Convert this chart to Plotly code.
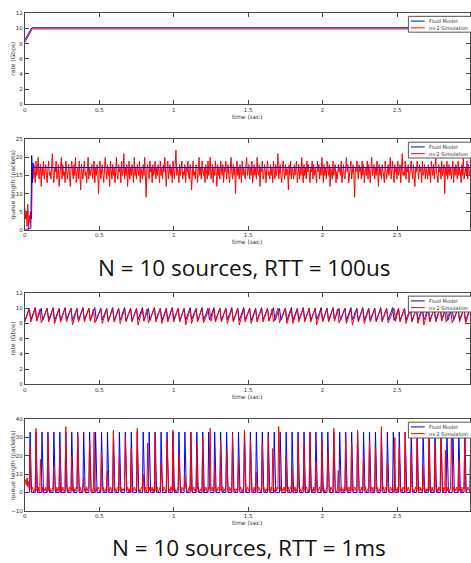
import plotly.graph_objects as go

# ---------------- sampling grids ----------------
T_STEP = 0.01
N_SAMPLES = 300
time_grid = [round(i * T_STEP, 3) for i in range(N_SAMPLES)]
T_FINE = 0.005
N_FINE = 600
time_fine = [round(i * T_FINE, 3) for i in range(N_FINE)]

# ---------------- N = 10, RTT = 100us ----------------
rate_fluid_100us_t = [0.0, 0.047, 2.99]
rate_fluid_100us = [8.5, 10.1, 10.1]
rate_ns2_100us_t = [0.0, 0.05, 2.99]
rate_ns2_100us = [8.2, 9.95, 9.95]

queue_fluid_100us_t = [0.0, 0.04, 0.046, 0.05, 0.054, 0.06, 2.99]
queue_fluid_100us = [0.0, 0.5, 20.5, 13.0, 18.5, 17.2, 17.2]

queue_ns2_100us = [
    6, 3, 5, 1, 7, 0, 4, 2, 5, 3, 17, 14, 18, 16, 13, 19, 15, 17, 20, 14, 16, 18, 12, 17, 15, 19, 14, 16, 18, 15,
    13, 17, 19, 15, 16, 14, 18, 21, 15, 13, 17, 16, 19, 14, 15, 18, 12, 16, 17, 20, 14, 18, 15, 16, 13, 19, 17, 14, 16, 18,
    15, 12, 17, 19, 16, 14, 18, 15, 20, 13, 16, 17, 14, 19, 15, 11, 18, 16, 14, 17, 19, 15, 16, 13, 18, 20, 14, 17, 15, 16,
    18, 14, 16, 19, 13, 17, 15, 18, 16, 10, 17, 19, 14, 16, 18, 15, 13, 17, 20, 16, 14, 18, 15, 17, 12, 19, 16, 14, 18, 15,
    17, 13, 16, 20, 15, 14, 18, 16, 17, 13, 19, 15, 16, 21, 14, 17, 15, 18, 12, 16, 19, 14, 17, 15, 18, 16, 13, 20, 15, 17,
    14, 18, 16, 15, 19, 13, 17, 16, 14, 18, 15, 20, 16, 9, 17, 18, 15, 14, 19, 16, 17, 13, 18, 15, 16, 19, 14, 17, 15, 18,
    16, 13, 19, 15, 17, 14, 18, 16, 20, 15, 12, 17, 19, 14, 16, 18, 15, 17, 13, 19, 16, 14, 18, 22, 15, 17, 16, 13, 18, 15,
    17, 19, 14, 16, 15, 18, 13, 17, 16, 19, 15, 14, 18, 16, 11, 17, 19, 15, 16, 14, 18, 17, 13, 16, 20, 15, 17, 14, 19, 16,
    15, 17, 13, 18, 16, 14, 19, 15, 17, 20, 14, 16, 18, 13, 17, 15, 19, 16, 12, 18, 15, 17, 14, 19, 16, 15, 18, 13, 17, 16,
    19, 14, 16, 18, 15, 13, 17, 20, 16, 14, 18, 15, 17, 10, 16, 19, 15, 17, 14, 18, 16, 13, 19, 15, 17, 16, 14, 18, 20, 15,
    16, 18, 14, 17, 15, 19, 13, 16, 18, 15, 17, 14, 20, 16, 15, 18, 12, 17, 16, 19, 14, 15, 18, 16, 13, 17, 19, 15, 16, 14,
    18, 15, 17, 13, 19, 16, 14, 18, 15, 17, 21, 14, 16, 18, 15, 13, 17, 19, 16, 14, 18, 15, 17, 16, 11, 18, 15, 19, 14, 17,
    16, 14, 18, 15, 17, 19, 13, 16, 18, 14, 17, 15, 20, 16, 13, 18, 15, 17, 14, 19, 16, 18, 15, 13, 17, 16, 19, 14, 18, 15,
    17, 15, 13, 19, 16, 18, 14, 17, 15, 20, 16, 13, 18, 15, 17, 14, 19, 16, 15, 18, 12, 17, 16, 14, 19, 15, 17, 18, 13, 16,
    14, 18, 16, 17, 15, 19, 13, 16, 18, 15, 14, 17, 20, 16, 18, 13, 15, 17, 19, 14, 16, 18, 15, 9, 17, 16, 19, 15, 14, 18,
    16, 17, 14, 19, 15, 18, 13, 16, 17, 15, 19, 14, 18, 16, 13, 17, 20, 15, 16, 18, 14, 17, 15, 19, 16, 12, 18, 15, 17, 14,
    18, 16, 15, 13, 19, 17, 14, 16, 18, 15, 17, 20, 14, 16, 19, 15, 13, 18, 16, 17, 14, 19, 15, 16, 18, 13, 17, 21, 15, 16,
    15, 19, 14, 17, 16, 18, 13, 15, 17, 19, 16, 14, 18, 15, 12, 17, 16, 19, 15, 14, 18, 16, 17, 13, 19, 15, 16, 18, 14, 17,
    16, 14, 18, 15, 17, 13, 19, 16, 15, 18, 14, 17, 20, 16, 15, 13, 18, 16, 17, 14, 19, 15, 16, 18, 10, 17, 15, 19, 14, 16,
    18, 15, 17, 14, 16, 19, 13, 17, 15, 18, 16, 14, 19, 15, 17, 16, 13, 18, 15, 20, 14, 16, 17, 15, 19, 14, 18, 16, 15, 17,
]

# ---------------- N = 10, RTT = 1ms ----------------
rate_fluid_1ms = [
    8.4, 8.9, 9.5, 10.0, 8.5, 9.0, 9.6, 10.1, 8.4, 8.9, 9.5, 10.0, 8.4, 9.0, 9.5, 10.0, 8.5, 8.9, 9.5, 10.1,
    8.4, 8.9, 9.5, 10.0, 8.4, 8.9, 9.6, 10.1, 8.5, 9.0, 9.5, 10.0, 8.4, 8.9, 9.5, 10.0, 8.4, 9.0, 9.6, 10.1,
    8.5, 8.9, 9.5, 10.0, 8.4, 8.9, 9.5, 10.1, 8.4, 9.0, 9.6, 10.0, 8.5, 8.9, 9.5, 10.0, 8.4, 8.9, 9.5, 10.1,
    8.4, 9.0, 9.5, 10.0, 8.5, 8.9, 9.6, 10.1, 8.4, 8.9, 9.5, 10.0, 8.4, 8.9, 9.5, 10.0, 8.5, 9.0, 9.6, 10.1,
    8.4, 8.9, 9.5, 10.0, 8.4, 9.0, 9.5, 10.1, 8.5, 8.9, 9.5, 10.0, 8.4, 8.9, 9.6, 10.0, 8.4, 9.0, 9.5, 10.1,
    8.5, 8.9, 9.5, 10.0, 8.4, 8.9, 9.5, 10.0, 8.4, 9.0, 9.6, 10.1, 8.5, 8.9, 9.5, 10.0, 8.4, 8.9, 9.5, 10.1,
    8.4, 9.0, 9.5, 10.0, 8.5, 8.9, 9.6, 10.1, 8.4, 8.9, 9.5, 10.0, 8.4, 9.0, 9.5, 10.0, 8.5, 8.9, 9.5, 10.1,
    8.4, 8.9, 9.6, 10.0, 8.4, 9.0, 9.5, 10.1, 8.5, 8.9, 9.5, 10.0, 8.4, 8.9, 9.5, 10.0, 8.4, 9.0, 9.6, 10.1,
    8.5, 8.9, 9.5, 10.0, 8.4, 8.9, 9.5, 10.1, 8.4, 9.0, 9.5, 10.0, 8.5, 8.9, 9.6, 10.0, 8.4, 8.9, 9.5, 10.1,
    8.4, 9.0, 9.5, 10.0, 8.5, 8.9, 9.5, 10.1, 8.4, 8.9, 9.6, 10.0, 8.4, 9.0, 9.5, 10.0, 8.5, 8.9, 9.5, 10.1,
    8.4, 8.9, 9.5, 10.0, 8.4, 9.0, 9.6, 10.1, 8.5, 8.9, 9.5, 10.0, 8.4, 8.9, 9.5, 10.0, 8.4, 9.0, 9.5, 10.1,
    8.5, 8.9, 9.6, 10.0, 8.4, 8.9, 9.5, 10.1, 8.4, 9.0, 9.5, 10.0, 8.5, 8.9, 9.5, 10.0, 8.4, 8.9, 9.6, 10.1,
    8.4, 9.0, 9.5, 10.0, 8.5, 8.9, 9.5, 10.1, 8.4, 8.9, 9.5, 10.0, 8.4, 9.0, 9.6, 10.0, 8.5, 8.9, 9.5, 10.1,
    8.4, 8.9, 9.5, 10.0, 8.4, 9.0, 9.5, 10.1, 8.5, 8.9, 9.6, 10.0, 8.4, 8.9, 9.5, 10.0, 8.4, 9.0, 9.5, 10.1,
    8.5, 8.9, 9.5, 10.0, 8.4, 8.9, 9.6, 10.1, 8.4, 9.0, 9.5, 10.0, 8.5, 8.9, 9.5, 10.0, 8.4, 8.9, 9.5, 10.1,
]

rate_ns2_1ms = [
    8.2, 8.8, 9.4, 10.0, 8.2, 8.8, 9.4, 10.0, 8.3, 9.1, 9.9, 8.1, 8.6, 9.1, 9.6, 10.0, 8.2, 8.8, 9.4, 10.0,
    8.0, 8.7, 9.3, 9.9, 8.2, 8.8, 9.4, 10.0, 8.2, 8.8, 9.4, 10.0, 7.8, 8.5, 9.2, 9.9, 8.2, 8.8, 9.4, 10.0,
    8.2, 8.8, 9.4, 10.0, 8.3, 9.1, 9.9, 8.1, 8.6, 9.1, 9.6, 10.0, 8.0, 8.7, 9.3, 9.9, 8.2, 8.8, 9.4, 10.0,
    8.2, 8.8, 9.4, 10.0, 8.0, 8.7, 9.3, 9.9, 8.2, 8.8, 9.4, 10.0, 8.2, 8.8, 9.4, 10.0, 7.8, 8.5, 9.2, 9.9,
    8.3, 9.1, 9.9, 8.1, 8.6, 9.1, 9.6, 10.0, 8.2, 8.8, 9.4, 10.0, 8.0, 8.7, 9.3, 9.9, 8.2, 8.8, 9.4, 10.0,
    8.2, 8.8, 9.4, 10.0, 8.2, 8.8, 9.4, 10.0, 7.8, 8.5, 9.2, 9.9, 8.0, 8.7, 9.3, 9.9, 8.2, 8.8, 9.4, 10.0,
    8.1, 8.6, 9.1, 9.6, 10.0, 8.3, 9.1, 9.9, 8.2, 8.8, 9.4, 10.0, 8.2, 8.8, 9.4, 10.0, 8.0, 8.7, 9.3, 9.9,
    8.2, 8.8, 9.4, 10.0, 7.8, 8.5, 9.2, 9.9, 8.2, 8.8, 9.4, 10.0, 8.0, 8.7, 9.3, 9.9, 8.2, 8.8, 9.4, 10.0,
    8.2, 8.8, 9.4, 10.0, 8.3, 9.1, 9.9, 8.2, 8.8, 9.4, 10.0, 8.1, 8.6, 9.1, 9.6, 10.0, 8.0, 8.7, 9.3, 9.9,
    8.0, 8.7, 9.3, 9.9, 8.2, 8.8, 9.4, 10.0, 8.2, 8.8, 9.4, 10.0, 8.2, 8.8, 9.4, 10.0, 7.8, 8.5, 9.2, 9.9,
    8.2, 8.8, 9.4, 10.0, 8.2, 8.8, 9.4, 10.0, 8.3, 9.1, 9.9, 8.1, 8.6, 9.1, 9.6, 10.0, 8.0, 8.7, 9.3, 9.9,
    7.8, 8.5, 9.2, 9.9, 8.2, 8.8, 9.4, 10.0, 8.0, 8.7, 9.3, 9.9, 8.2, 8.8, 9.4, 10.0, 8.2, 8.8, 9.4, 10.0,
    8.2, 8.8, 9.4, 10.0, 8.1, 8.6, 9.1, 9.6, 10.0, 8.3, 9.1, 9.9, 8.2, 8.8, 9.4, 10.0, 8.0, 8.7, 9.3, 9.9,
    8.2, 8.8, 9.4, 10.0, 8.0, 8.7, 9.3, 9.9, 7.8, 8.5, 9.2, 9.9, 8.2, 8.8, 9.4, 10.0, 8.2, 8.8, 9.4, 10.0,
    8.3, 9.1, 9.9, 8.2, 8.8, 9.4, 10.0, 8.1, 8.6, 9.1, 9.6, 10.0, 8.2, 8.8, 9.4, 10.0, 8.0, 8.7, 9.3, 9.9,
]

queue_fluid_1ms = [
    0, 0, 0, 0, 0, 0, 0, 33, 0, 0, 0, 0, 0, 0, 0, 33, 0, 0, 0, 0, 0, 0, 0, 33, 0, 0, 0, 0, 0, 0, 0, 33, 0, 0, 0, 0, 0, 0, 0, 33,
    0, 0, 0, 0, 0, 0, 0, 33, 0, 0, 0, 0, 0, 0, 0, 33, 0, 0, 0, 0, 0, 0, 0, 33, 0, 0, 0, 0, 0, 0, 0, 33, 0, 0, 0, 0, 0, 0, 0, 33,
    0, 0, 0, 0, 0, 0, 0, 33, 0, 0, 0, 0, 0, 0, 0, 33, 0, 0, 0, 0, 0, 0, 0, 33, 0, 0, 0, 0, 0, 0, 0, 33, 0, 0, 0, 0, 0, 0, 0, 33,
    0, 0, 0, 0, 0, 0, 0, 33, 0, 0, 0, 0, 0, 0, 0, 33, 0, 0, 0, 0, 0, 0, 0, 33, 0, 0, 0, 0, 0, 0, 0, 33, 0, 0, 0, 0, 0, 0, 0, 33,
    0, 0, 0, 0, 0, 0, 0, 33, 0, 0, 0, 0, 0, 0, 0, 33, 0, 0, 0, 0, 0, 0, 0, 33, 0, 0, 0, 0, 0, 0, 0, 33, 0, 0, 0, 0, 0, 0, 0, 33,
    0, 0, 0, 0, 0, 0, 0, 33, 0, 0, 0, 0, 0, 0, 0, 33, 0, 0, 0, 0, 0, 0, 0, 33, 0, 0, 0, 0, 0, 0, 0, 33, 0, 0, 0, 0, 0, 0, 0, 33,
    0, 0, 0, 0, 0, 0, 0, 33, 0, 0, 0, 0, 0, 0, 0, 33, 0, 0, 0, 0, 0, 0, 0, 33, 0, 0, 0, 0, 0, 0, 0, 33, 0, 0, 0, 0, 0, 0, 0, 33,
    0, 0, 0, 0, 0, 0, 0, 33, 0, 0, 0, 0, 0, 0, 0, 33, 0, 0, 0, 0, 0, 0, 0, 33, 0, 0, 0, 0, 0, 0, 0, 33, 0, 0, 0, 0, 0, 0, 0, 33,
    0, 0, 0, 0, 0, 0, 0, 33, 0, 0, 0, 0, 0, 0, 0, 33, 0, 0, 0, 0, 0, 0, 0, 33, 0, 0, 0, 0, 0, 0, 0, 33, 0, 0, 0, 0, 0, 0, 0, 33,
    0, 0, 0, 0, 0, 0, 0, 33, 0, 0, 0, 0, 0, 0, 0, 33, 0, 0, 0, 0, 0, 0, 0, 33, 0, 0, 0, 0, 0, 0, 0, 33, 0, 0, 0, 0, 0, 0, 0, 33,
    0, 0, 0, 0, 0, 0, 0, 33, 0, 0, 0, 0, 0, 0, 0, 33, 0, 0, 0, 0, 0, 0, 0, 33, 0, 0, 0, 0, 0, 0, 0, 33, 0, 0, 0, 0, 0, 0, 0, 33,
    0, 0, 0, 0, 0, 0, 0, 33, 0, 0, 0, 0, 0, 0, 0, 33, 0, 0, 0, 0, 0, 0, 0, 33, 0, 0, 0, 0, 0, 0, 0, 33, 0, 0, 0, 0, 0, 0, 0, 33,
    0, 0, 0, 0, 0, 0, 0, 33, 0, 0, 0, 0, 0, 0, 0, 33, 0, 0, 0, 0, 0, 0, 0, 33, 0, 0, 0, 0, 0, 0, 0, 33, 0, 0, 0, 0, 0, 0, 0, 33,
    0, 0, 0, 0, 0, 0, 0, 33, 0, 0, 0, 0, 0, 0, 0, 33, 0, 0, 0, 0, 0, 0, 0, 33, 0, 0, 0, 0, 0, 0, 0, 33, 0, 0, 0, 0, 0, 0, 0, 33,
    0, 0, 0, 0, 0, 0, 0, 33, 0, 0, 0, 0, 0, 0, 0, 33, 0, 0, 0, 0, 0, 0, 0, 33, 0, 0, 0, 0, 0, 0, 0, 33, 0, 0, 0, 0, 0, 0, 0, 33,
]

queue_ns2_1ms = [
    5, 7, 4, 8, 3, 6, 2, 25, 2, 1, 3, 2, 0, 1, 3, 35, 1, 2, 3, 0, 2, 18, 2, 0, 3, 1, 2, 1, 3, 0, 2, 30, 1, 3, 2, 0, 1, 2, 3, 14,
    2, 1, 3, 0, 2, 3, 1, 26, 0, 2, 1, 3, 1, 0, 2, 36, 3, 1, 2, 0, 3, 2, 1, 20, 1, 3, 0, 2, 1, 3, 2, 31, 2, 1, 3, 1, 0, 2, 3, 8,
    1, 2, 0, 3, 1, 2, 3, 28, 3, 1, 2, 0, 1, 33, 2, 0, 3, 1, 2, 3, 1, 0, 2, 22, 2, 3, 1, 0, 2, 1, 3, 12, 0, 2, 1, 3, 2, 0, 1, 34,
    3, 1, 2, 0, 2, 3, 1, 19, 1, 3, 0, 2, 1, 2, 3, 30, 2, 1, 3, 1, 0, 2, 1, 24, 0, 2, 1, 3, 2, 1, 3, 35, 3, 2, 1, 0, 2, 3, 1, 10,
    2, 1, 3, 0, 2, 27, 0, 3, 1, 2, 1, 3, 0, 2, 1, 32, 1, 2, 3, 0, 1, 2, 3, 16, 2, 0, 1, 3, 2, 1, 0, 29, 3, 1, 2, 0, 3, 2, 1, 34,
    1, 3, 2, 0, 1, 2, 3, 21, 2, 1, 0, 3, 2, 1, 3, 9, 3, 2, 1, 0, 2, 3, 1, 33, 1, 0, 2, 3, 1, 2, 0, 26, 2, 3, 1, 0, 2, 1, 3, 30,
    0, 2, 1, 3, 2, 0, 1, 3, 2, 35, 2, 1, 3, 0, 1, 15, 3, 0, 2, 1, 3, 2, 1, 28, 1, 2, 3, 0, 2, 1, 3, 23, 2, 1, 0, 3, 1, 2, 0, 32,
    3, 1, 2, 0, 2, 1, 3, 18, 1, 2, 3, 1, 0, 2, 3, 34, 2, 0, 1, 3, 2, 1, 0, 29, 3, 2, 1, 0, 3, 1, 2, 11, 0, 1, 3, 2, 1, 0, 3, 27,
    2, 3, 1, 0, 2, 1, 3, 31, 1, 2, 0, 3, 1, 24, 3, 1, 0, 2, 1, 3, 2, 36, 2, 1, 3, 0, 2, 1, 3, 2, 0, 20, 1, 2, 3, 0, 1, 3, 2, 13,
    0, 2, 1, 3, 0, 2, 1, 30, 3, 1, 2, 0, 1, 3, 2, 26, 1, 0, 3, 2, 1, 0, 3, 33, 2, 1, 2, 0, 3, 1, 2, 17, 3, 0, 1, 2, 3, 1, 0, 29,
    1, 3, 2, 0, 1, 2, 3, 22, 2, 1, 0, 3, 2, 1, 0, 35, 3, 2, 1, 0, 2, 12, 1, 0, 2, 3, 1, 2, 0, 3, 1, 31, 2, 1, 3, 0, 2, 3, 1, 27,
    2, 0, 1, 3, 2, 1, 0, 34, 3, 2, 1, 0, 3, 1, 2, 19, 1, 3, 2, 0, 1, 2, 3, 28, 0, 1, 3, 2, 0, 3, 1, 24, 2, 3, 1, 0, 2, 1, 3, 36,
    1, 2, 3, 0, 1, 3, 2, 16, 2, 1, 0, 3, 2, 1, 3, 0, 2, 30, 1, 2, 0, 3, 1, 25, 3, 1, 2, 0, 3, 2, 1, 33, 0, 2, 1, 3, 2, 0, 1, 21,
    3, 2, 1, 0, 2, 3, 1, 29, 1, 0, 2, 3, 1, 2, 0, 14, 2, 3, 1, 0, 2, 1, 3, 32, 1, 2, 0, 3, 1, 0, 2, 27, 3, 1, 2, 0, 3, 2, 1, 35,
    2, 1, 0, 3, 1, 23, 0, 3, 1, 2, 0, 1, 3, 31, 2, 1, 3, 0, 2, 1, 3, 2, 0, 18, 1, 2, 3, 0, 1, 3, 2, 34, 2, 0, 1, 3, 2, 1, 0, 26,
]

series_names = ["Fluid Model", "ns-2 Simulation"]
x_ticks = [0, 0.5, 1, 1.5, 2, 2.5]
y_titles = ["rate (Gbps)", "queue length (packets)", "rate (Gbps)", "queue length (packets)"]
y_ranges = [[0, 12], [0, 25], [0, 12], [-10, 40]]
y_dticks = [2, 5, 2, 10]
x_title = "time (sec)"
captions = ["N = 10 sources, RTT = 100us", "N = 10 sources, RTT = 1ms"]

# ---------------- styling ----------------
W, H = 471, 563
BLUE = "#0000FF"
RED = "#FF0000"
AXC = "#4a4a4a"
TXT = "#333333"
SMALL = "DejaVu Sans"
panel_px = [(10.5, 102.3), (137.7, 229.3), (293.3, 385.3), (420.7, 513.3)]  # (top, bottom) px
x_left_px = 23

fig = go.Figure()


def add(k, x, y, color, name, width=1):
    sfx = "" if k == 1 else str(k)
    fig.add_trace(go.Scatter(x=x, y=y, mode="lines", name=name, showlegend=False,
                             line=dict(color=color, width=width),
                             xaxis="x" + sfx, yaxis="y" + sfx))


# panel 1
add(1, rate_ns2_100us_t, rate_ns2_100us, RED, series_names[1])
add(1, rate_fluid_100us_t, rate_fluid_100us, BLUE, series_names[0])
# panel 2
add(2, time_fine, queue_ns2_100us, RED, series_names[1])
add(2, queue_fluid_100us_t, queue_fluid_100us, BLUE, series_names[0])
# panel 3
add(3, time_grid, rate_fluid_1ms, BLUE, series_names[0])
add(3, time_grid, rate_ns2_1ms, RED, series_names[1])
# panel 4
add(4, time_fine, queue_fluid_1ms, BLUE, series_names[0])
add(4, time_fine, queue_ns2_1ms, RED, series_names[1])

layout = dict(width=W, height=H, margin=dict(l=0, r=0, t=0, b=0),
              paper_bgcolor="white", plot_bgcolor="white", showlegend=False)

annotations = []
shapes = []
for i in range(4):
    k = i + 1
    sfx = "" if k == 1 else str(k)
    top, bot = panel_px[i]
    dom = [1 - bot / H, 1 - top / H]
    layout["xaxis" + sfx] = dict(
        domain=[x_left_px / W, 1.0], range=[0, 2.99], tickvals=x_ticks,
        anchor="y" + sfx, ticks="inside", ticklen=4, tickcolor=AXC, showline=True,
        linecolor=AXC, linewidth=1, mirror="ticks", showgrid=False, zeroline=False,
        tickfont=dict(family=SMALL, size=5.5, color=TXT))
    layout["yaxis" + sfx] = dict(
        domain=dom, range=y_ranges[i], dtick=y_dticks[i], anchor="x" + sfx,
        ticks="inside", ticklen=4, tickcolor=AXC, showline=True, linecolor=AXC,
        linewidth=1, mirror="ticks", showgrid=False, zeroline=False,
        tickfont=dict(family=SMALL, size=5.5, color=TXT))
    xd = ("x" if k == 1 else "x" + str(k)) + " domain"
    yd = ("y" if k == 1 else "y" + str(k)) + " domain"
    ph = bot - top
    # axis titles
    annotations.append(dict(text=x_title, xref=xd, yref=yd, x=0.5, y=0, yshift=-12,
                            xanchor="center", yanchor="middle", showarrow=False,
                            font=dict(family=SMALL, size=6, color=TXT)))
    annotations.append(dict(text=y_titles[i], xref="paper", yref=yd, x=11 / W, y=0.5,
                            textangle=-90, xanchor="center", yanchor="middle", showarrow=False,
                            font=dict(family=SMALL, size=6, color=TXT)))
    # legend box
    pw = W - x_left_px
    shapes.append(dict(type="rect", xref=xd, yref=yd, x0=(409 - x_left_px) / pw, x1=1.05,
                       y0=1 - 19 / ph, y1=1 - 3 / ph, fillcolor="white",
                       line=dict(color="#555", width=1), layer="above"))
    for j, (col, name) in enumerate([(BLUE, series_names[0]), (RED, series_names[1])]):
        yy = 1 - (7.8 + 6.8 * j) / ph
        shapes.append(dict(type="line", xref=xd, yref=yd, x0=(411.5 - x_left_px) / pw,
                           x1=(425.5 - x_left_px) / pw, y0=yy, y1=yy,
                           line=dict(color=col, width=1), layer="above"))
        annotations.append(dict(text=name, xref=xd, yref=yd, x=(427.5 - x_left_px) / pw, y=yy,
                                xanchor="left", yanchor="middle", showarrow=False,
                                font=dict(family=SMALL, size=5, color=TXT)))

annotations.append(dict(text=captions[0], xref="paper", yref="paper", x=244 / W, y=1 - 267 / H,
                        xanchor="center", yanchor="middle", showarrow=False,
                        font=dict(family="Open Sans", size=22.5, color="#111")))
annotations.append(dict(text=captions[1], xref="paper", yref="paper", x=249 / W, y=1 - 550 / H,
                        xanchor="center", yanchor="middle", showarrow=False,
                        font=dict(family="Open Sans", size=22.5, color="#111")))
layout["annotations"] = annotations
layout["shapes"] = shapes
fig.update_layout(**layout)
fig.write_html("out.html", config={"displayModeBar": False},
               post_script="document.body.style.margin='0';document.body.style.overflow='hidden';")
